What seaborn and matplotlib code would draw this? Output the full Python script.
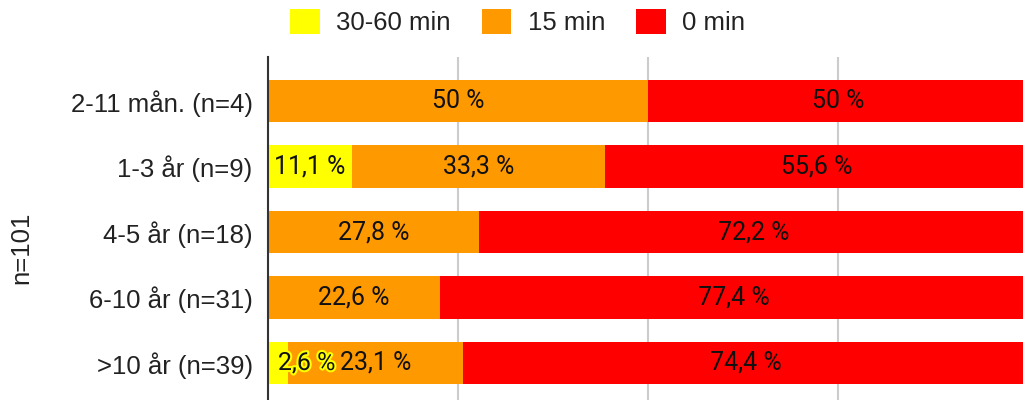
import matplotlib
matplotlib.use("Agg")
import matplotlib.pyplot as plt
import matplotlib.patheffects as pe
from matplotlib.patches import Patch
import numpy as np
import pandas as pd
import seaborn as sns

# Age groups and share (%) of answers per waiting time
categories = ["2-11 mån. (n=4)", "1-3 år (n=9)", "4-5 år (n=18)", "6-10 år (n=31)", ">10 år (n=39)"]
share_30_60 = [0.0, 11.1, 0.0, 0.0, 2.6]
share_15 = [50.0, 33.3, 27.8, 22.6, 23.1]
share_0 = [50.0, 55.6, 72.2, 77.4, 74.4]
series_names = ["30-60 min", "15 min", "0 min"]
series_colors = ["#ffff00", "#ff9900", "#ff0000"]
y_title = "n=101"

sns.set_theme(style="white")
plt.rcParams["font.family"] = ["Liberation Sans", "DejaVu Sans"]

df = pd.DataFrame({
    "group": categories,
    "a": share_30_60,
    "b": share_15,
    "c": share_0,
})
df["cum_a"] = df["a"]
df["cum_b"] = df["a"] + df["b"]
df["cum_c"] = df["a"] + df["b"] + df["c"]

fig = plt.figure(figsize=(10.23, 4.0), dpi=100)
ax = fig.add_axes([268 / 1023, 0.0, 760 / 1023, 1 - 57 / 400])

# stacked look: draw cumulative totals from longest to shortest
for col, color in zip(["cum_c", "cum_b", "cum_a"], series_colors[::-1]):
    sns.barplot(data=df, y="group", x=col, color=color, orient="h",
                width=0.65, saturation=1, ax=ax, linewidth=0, zorder=3)

ax.set_xlim(0, 100)
ax.set_ylim(4.565, -0.672)
ax.set_xticks([0, 25, 50, 75, 100])
ax.set_xticklabels([])
ax.xaxis.grid(True, color="#cccccc", linewidth=1.5, zorder=0)
ax.set_axisbelow(True)
for s in ["top", "right", "bottom"]:
    ax.spines[s].set_visible(False)
ax.spines["left"].set_color("#333333")
ax.spines["left"].set_linewidth(1.5)
ax.spines["left"].set_zorder(5)
ax.tick_params(axis="y", length=0, pad=11, labelsize=18.5, labelcolor="#222222")
ax.tick_params(axis="x", length=0)
ax.set_xlabel("")
ax.set_ylabel("")


def fmt(v):
    if abs(v - round(v)) < 1e-9:
        return f"{int(round(v))} %"
    return f"{v:.1f}".replace(".", ",") + " %"


label_font = ["Roboto", "DejaVu Sans"]
for i in range(len(categories)):
    left = 0.0
    for vals in (share_30_60, share_15, share_0):
        v = vals[i]
        if v > 0:
            if v < 5:
                t = ax.text(left + 1.3, i, fmt(v), ha="left", va="center",
                            fontsize=18, family=label_font, color="#111111", zorder=6)
                t.set_path_effects([pe.withStroke(linewidth=3, foreground="#ffff00")])
            else:
                ax.text(left + v / 2, i, fmt(v), ha="center", va="center",
                        fontsize=18, family=label_font, color="#111111", zorder=6)
        left += v

fig.text(21 / 1023, 1 - 248 / 400, y_title, rotation=90, ha="center", va="center",
         fontsize=18.5, color="#222222")

handles = [Patch(facecolor=c, edgecolor="none") for c in series_colors]
fig.legend(handles, series_names, loc="center", bbox_to_anchor=(0.506, 1 - 22 / 400),
           ncol=3, frameon=False, fontsize=18.5, handlelength=1.15, handleheight=1.15,
           handletextpad=0.65, columnspacing=1.2, labelcolor="#222222")

fig.savefig("out.png", dpi=100)
